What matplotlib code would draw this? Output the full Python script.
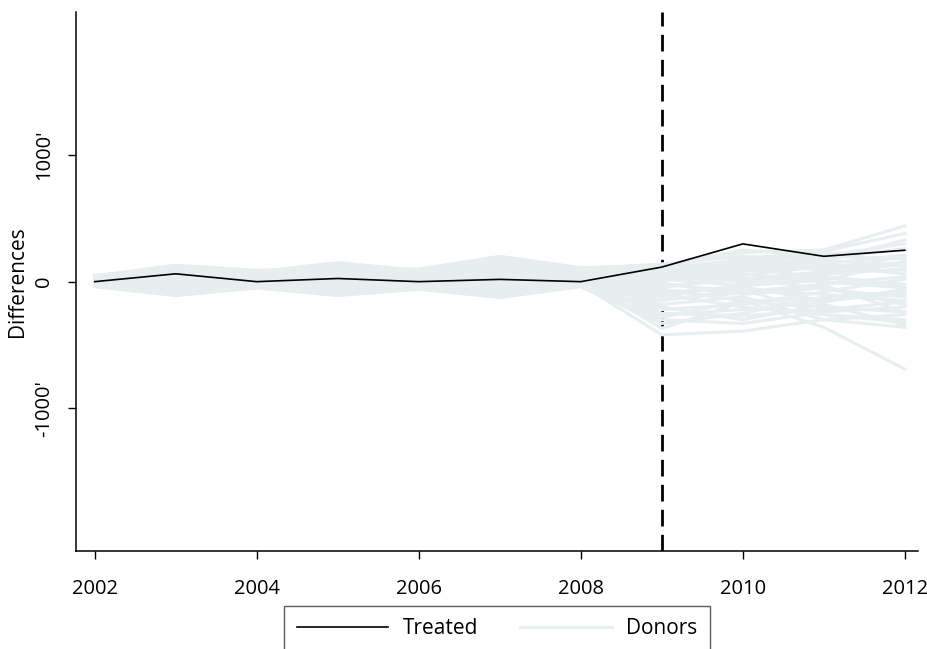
import matplotlib
matplotlib.use("Agg")
import matplotlib.pyplot as plt

plt.rcParams["font.family"] = ["Open Sans", "DejaVu Sans"]

years = list(range(2002, 2013))
treatment_year = 2009

treated = [0, 62, 0, 25, 0, 18, 0, 115, 298, 200, 248]

# gaps for the donor units
donors = [
    [30, 120, 60, 140, 80, 190, 90, 120, 230, 250, 440],
    [-20, -100, -40, -90, -50, -110, -20, -420, -390, -300, -260],
    [10, 40, 20, 60, 30, 150, 60, 60, 180, 240, 380],
    [-10, -60, -20, -80, -30, -90, 10, -280, -150, -360, -690],
    [40, 90, 50, 110, 60, 120, 80, 20, 100, 200, 300],
    [0, -30, 10, -40, -10, -60, 30, -200, -300, -180, -340],
    [20, 70, 40, 30, 50, 100, 40, -50, 50, 120, 150],
    [-30, -80, -30, -100, -40, -120, -30, -150, -60, -100, -150],
    [50, 110, 80, 150, 90, 170, 100, 140, 200, 180, 260],
    [-40, -110, -50, -110, -60, -125, -40, -330, -250, -120, -80],
    [15, 50, 30, 80, 40, 60, 20, 40, 0, 60, 100],
    [-5, 10, 0, 20, 10, 40, -10, -100, -200, -260, -300],
    [25, 80, 50, 90, 70, 140, 70, 100, 150, 90, 200],
    [-25, -50, -10, -60, -20, -40, 0, -250, -270, -220, -160],
    [5, 20, 40, 50, 20, 80, 50, -20, -80, -20, 40],
    [35, 100, 70, 120, 60, 90, 60, 80, 120, 160, 330],
    [-15, -70, -30, -50, -40, -80, 20, -180, -120, -300, -360],
    [45, 130, 90, 100, 100, 200, 110, 130, 250, 200, 180],
    [-35, -90, -45, -100, -55, -100, -35, -300, -330, -240, -200],
    [10, 30, 10, 40, 0, 20, 10, 10, 60, 0, -50],
    [0, -10, 20, 10, 30, 60, 40, -60, -150, -140, -100],
    [20, 60, 60, 70, 40, 110, 30, 50, 80, 130, 60],
    [-20, -40, 0, -30, 10, -20, 50, -120, -20, 40, -20],
    [30, 90, 30, 130, 50, 160, 80, 90, 30, -60, -120],
    [-10, -20, -20, -20, -20, 0, -10, -220, -180, -80, 20],
    [40, 70, 60, 90, 70, 130, 100, 30, 140, 220, 250],
    [-30, -60, -40, -70, -30, -70, 20, -370, -160, -200, -240],
    [10, 40, 30, 60, 20, 90, 40, -10, -100, -50, -180],
    [-5, 0, 10, -10, 20, 30, 60, 0, 200, 100, 130],
    [25, 50, 40, 20, 30, 50, 20, -80, -60, -260, -320],
    [15, 60, 20, 70, 40, 120, 50, 70, 110, 30, -30],
    [-15, -30, -10, -20, 0, 10, 20, -40, 20, 80, 90],
    [5, 30, 50, 40, 60, 70, 70, 110, 170, 140, 210],
    [-25, -70, -35, -80, -40, -60, 0, -90, -40, -150, -90],
    [35, 80, 40, 100, 30, 100, 40, 20, -30, 10, 160],
    [0, 20, 0, 30, -10, 50, 10, -140, -90, -30, -240],
    [20, 90, 70, 110, 80, 180, 90, 60, 90, 170, 120],
    [-20, -50, -25, -40, -35, -50, -20, -260, -220, -160, -60],
]

xticks = [2002, 2004, 2006, 2008, 2010, 2012]
yticks = [-1000, 0, 1000]
ytick_labels = ["-1000'", "0", "1000'"]

donor_color = "#e6eef0"

fig = plt.figure(figsize=(9.28, 6.49), dpi=100)
ax = fig.add_axes([0.082, 0.151, 0.907, 0.831])

ax.axvline(treatment_year, color="black", lw=2.0, ls=(0, (6, 3)), zorder=1)
for i, row in enumerate(donors):
    ax.plot(years, row, color=donor_color, lw=2.2, zorder=2,
            label="Donors" if i == 0 else None)
ax.plot(years, treated, color="black", lw=1.2, zorder=3, label="Treated")

ax.set_xlim(2001.77, 2012.16)
ax.set_ylim(-2125, 2130)
ax.set_xticks(xticks)
ax.set_yticks(yticks)
ax.set_yticklabels(ytick_labels, rotation=90, va="center")
ax.set_ylabel("Differences", fontsize=15, labelpad=4)

for side in ("top", "right"):
    ax.spines[side].set_visible(False)
for side in ("left", "bottom"):
    ax.spines[side].set_linewidth(1.1)
ax.tick_params(axis="both", direction="out", length=6, width=1.0, labelsize=14.5)
ax.tick_params(axis="x", pad=14)
ax.tick_params(axis="y", pad=10)

handles, labels = ax.get_legend_handles_labels()
order = [labels.index("Treated"), labels.index("Donors")]
leg = fig.legend([handles[k] for k in order], [labels[k] for k in order],
                 loc="upper center", bbox_to_anchor=(0.5356, 0.0663), ncol=2,
                 fontsize=15, frameon=True, fancybox=False, edgecolor="#333333",
                 handlelength=4.4, handletextpad=0.7, columnspacing=2.0,
                 borderpad=0.6, borderaxespad=0)
leg.get_frame().set_linewidth(1.0)

fig.savefig("out.png", dpi=100)
